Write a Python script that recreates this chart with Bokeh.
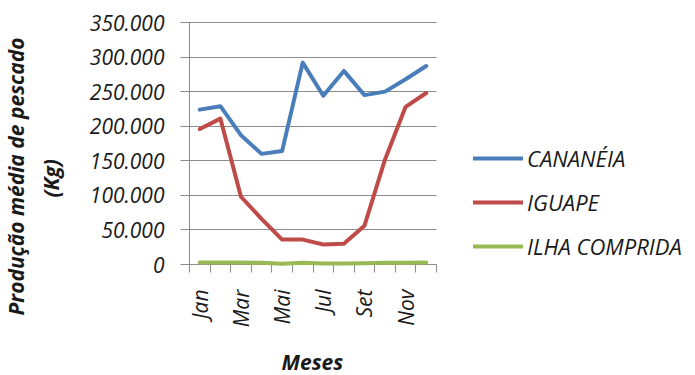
from math import pi

from bokeh.embed import file_html
from bokeh.models import (CustomJSTickFormatter, FixedTicker, Legend,
                          LegendItem, Range1d, Title)
from bokeh.plotting import figure
from bokeh.resources import INLINE

# Monthly average fish production (kg) per municipality
months = ["Jan", "Fev", "Mar", "Abr", "Mai", "Jun", "Jul", "Ago", "Set", "Out", "Nov", "Dez"]
cananeia = [224000, 229000, 187000, 160000, 164000, 292000, 244000, 280000, 245000, 250000, 268000, 287000]
iguape = [196000, 211000, 98000, 66000, 36000, 36000, 29000, 30000, 56000, 152000, 228000, 248000]
ilha_comprida = [2800, 3000, 2800, 2600, 1200, 2400, 1400, 1300, 1700, 2400, 2700, 2800]

y_ticks = [0, 50000, 100000, 150000, 200000, 250000, 300000, 350000]
y_labels = ["0", "50.000", "100.000", "150.000", "200.000", "250.000", "300.000", "350.000"]

series_names = ["CANANÉIA", "IGUAPE", "ILHA COMPRIDA"]
series_colors = ["#4A7EBB", "#BE4B48", "#98B954"]

FONT = "Open Sans"
TEXT_COLOR = "#1a1a1a"
GRID_COLOR = "#8c8c8c"

x = list(range(1, len(months) + 1))

# The frame runs to the right edge so the legend can sit beside the lines;
# the month axis itself only spans 0.5..12.5 (247 px of the 506 px frame).
PLOT_W = 247
FRAME_W = 506
x_end = 0.5 + len(months) * FRAME_W / PLOT_W

p = figure(width=695, height=375, output_backend="svg", toolbar_location=None,
           x_range=Range1d(0.5, x_end), y_range=Range1d(0, 350000),
           min_border_left=189, min_border_right=0,
           min_border_top=22, min_border_bottom=111)
p.outline_line_color = None
p.background_fill_color = "white"

renderers = []
for vals, color in zip([cananeia, iguape, ilha_comprida], series_colors):
    r = p.line(x, vals, line_color=color, line_width=4, line_join="round", line_cap="round",
               level="overlay")
    renderers.append(r)

# x axis: category boundaries as ticks, every other month labelled
xa = p.xaxis[0]
xa.bounds = (0.5, 12.5)
xa.ticker = FixedTicker(ticks=x[::2], minor_ticks=[i + 0.5 for i in range(13)])
xa.formatter = CustomJSTickFormatter(args=dict(names=months),
                                     code="return names[Math.round(tick) - 1];")
xa.major_tick_out = 0
xa.major_tick_in = 0
xa.minor_tick_out = 8
xa.minor_tick_in = 0
xa.minor_tick_line_color = GRID_COLOR
xa.axis_line_color = GRID_COLOR
xa.major_label_orientation = pi / 2
xa.major_label_standoff = 17
xa.major_label_text_font = FONT
xa.major_label_text_font_style = "italic"
xa.major_label_text_font_size = "21px"
xa.major_label_text_color = TEXT_COLOR
p.xgrid.visible = False
p.ygrid.visible = False

# spacer, then the x axis title centred under the month axis
p.add_layout(Title(text=" ", standoff=12, text_font_size="1px"), "below")
p.add_layout(Title(text="Meses", align="left", offset=92, standoff=0,
                   text_font=FONT, text_font_style="bold italic",
                   text_font_size="21px", text_color=TEXT_COLOR), "below")

# y axis; its inward ticks span the plot width and serve as gridlines
ya = p.yaxis[0]
ya.ticker = FixedTicker(ticks=y_ticks, minor_ticks=[])
ya.formatter = CustomJSTickFormatter(args=dict(yvals=y_ticks, ylabels=y_labels),
                                     code="const i = yvals.indexOf(tick); return i >= 0 ? ylabels[i] : '';")
ya.major_tick_out = 9
ya.major_tick_in = PLOT_W
ya.major_tick_line_color = GRID_COLOR
ya.axis_line_color = GRID_COLOR
ya.major_label_standoff = 16
ya.major_label_text_font = FONT
ya.major_label_text_font_style = "italic"
ya.major_label_text_font_size = "21px"
ya.major_label_text_color = TEXT_COLOR

# y axis title in two lines, stacked left of the axis
for txt, off, stand in [("(Kg)", 67, 43), ("Produção média de pescado", -51, -33)]:
    p.add_layout(Title(text=txt, align="left", offset=off, standoff=stand,
                       text_font=FONT, text_font_style="bold italic",
                       text_font_size="21px", text_color=TEXT_COLOR), "left")

legend = Legend(items=[LegendItem(label=n, renderers=[r]) for n, r in zip(series_names, renderers)],
                location=(284, 3), padding=0, margin=0, spacing=14,
                glyph_width=50, glyph_height=20, label_height=20, label_standoff=4,
                border_line_color=None, background_fill_alpha=0,
                label_text_font=FONT, label_text_font_style="italic",
                label_text_font_size="22px", label_text_color=TEXT_COLOR)
p.add_layout(legend)

open("out.html", "w").write(file_html(p, INLINE))
